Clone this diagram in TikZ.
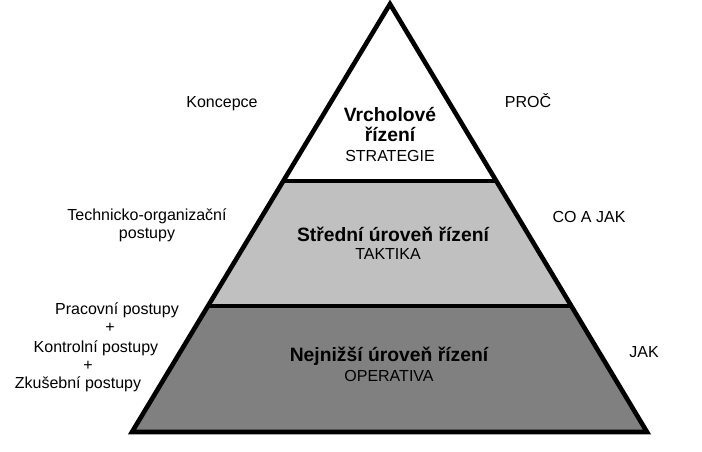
\documentclass[tikz,border=0pt]{standalone}
\usepackage{fontspec}
\setmainfont{Liberation Sans}
\usepackage{xcolor}
\usepackage{tikz}
\usetikzlibrary{calc}
\definecolor{bg}{HTML}{FFFFFF}
\definecolor{ink}{HTML}{000000}
\definecolor{topfill}{HTML}{FFFFFF}
\definecolor{midfill}{HTML}{C0C0C0}
\definecolor{lowfill}{HTML}{808080}
\tikzset{
  edge/.style={draw=ink, line width=4.6pt, line cap=butt, line join=miter},
  band/.style={draw=none},
  lab/.style={text=ink, font=\fontsize{16}{18}\selectfont, inner sep=0pt, align=center},
  head/.style={text=ink, font=\bfseries\fontsize{19.3}{20}\selectfont, inner sep=0pt, align=center},
  sub/.style={text=ink, font=\fontsize{16}{18}\selectfont, inner sep=0pt}
}
\begin{document}
\begin{tikzpicture}[x=1pt,y=-1pt]
  \useasboundingbox[fill=bg] (0,0) rectangle (702,452);
  \coordinate (A) at (390,4);
  \coordinate (BL) at (132,432);
  \coordinate (BR) at (647,432);
  \coordinate (L1) at ($(A)!0.414!(BL)$);
  \coordinate (R1) at ($(A)!0.414!(BR)$);
  \coordinate (L2) at ($(A)!0.706!(BL)$);
  \coordinate (R2) at ($(A)!0.706!(BR)$);
  % bands
  \fill[band, topfill] (A)--(R1)--(L1)--cycle;
  \fill[band, midfill] (L1)--(R1)--(R2)--(L2)--cycle;
  \fill[band, lowfill] (L2)--(R2)--(BR)--(BL)--cycle;
  \draw[edge] (A)--(BR)--(BL)--cycle;
  \draw[edge] (L1)--(R1);
  \draw[edge] (L2)--(R2);
  % level titles
  \node[head] (vrch1) at (390,115) {Vrcholové};
  \node[head] (vrch2) at (390,134) {řízení};
  \node[sub] (strat) at (390,156) {STRATEGIE};
  \node[head] (stred) at (393,234) {Střední úroveň řízení};
  \node[sub] (takt) at (388,254) {TAKTIKA};
  \node[head] (nejn) at (389,356) {Nejnižší úroveň řízení};
  \node[sub] (oper) at (389,376) {OPERATIVA};
  % left side
  \node[lab] (konc) at (222,104) {Koncepce};
  \node[lab] (tech) at (147,225) {Technicko-organizační\\postupy};
  \node[lab] (prac) at (117,310) {Pracovní postupy};
  \node[lab] (plus1) at (110,328) {+};
  \node[lab] (kontr) at (96,348) {Kontrolní postupy};
  \node[lab] (plus2) at (88,366) {+};
  \node[lab] (zkus) at (78,384) {Zkušební postupy};
  % right side
  \node[lab] (proc) at (528,101) {PROČ};
  \node[lab] (coajak) at (589,217) {CO A JAK};
  \node[lab] (jak) at (644,352) {JAK};
\end{tikzpicture}
\end{document}
